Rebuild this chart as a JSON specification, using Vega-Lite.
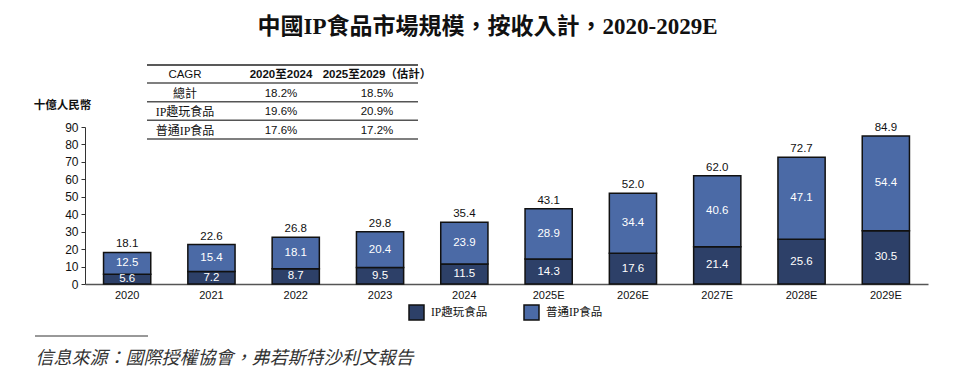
{
  "$schema": "https://vega.github.io/schema/vega-lite/v6.json",
  "width": 843,
  "height": 157,
  "autosize": {"type": "none"},
  "padding": {"left": 85, "top": 127, "right": 32, "bottom": 98},
  "background": "white",
  "title": {
    "text": "中國IP食品市場規模，按收入計，2020-2029E",
    "font": "Liberation Serif, Noto Sans CJK TC",
    "fontSize": 23,
    "fontWeight": "bold",
    "color": "#111",
    "anchor": "middle",
    "frame": "group",
    "baseline": "bottom",
    "dx": -19,
    "offset": 2
  },
  "config": {
    "view": {"stroke": null},
    "axis": {"labelFont": "Liberation Sans", "labelColor": "#111"},
    "axisY": {
      "values": [0, 10, 20, 30, 40, 50, 60, 70, 80, 90],
      "tickCount": 10,
      "labelOverlap": false
    }
  },
  "layer": [
    {
      "layer": [
        {
          "data": {
            "values": [
              {"year": "2020", "segment": "IP趣玩食品", "value": 5.6},
              {"year": "2020", "segment": "普通IP食品", "value": 12.5},
              {"year": "2021", "segment": "IP趣玩食品", "value": 7.2},
              {"year": "2021", "segment": "普通IP食品", "value": 15.4},
              {"year": "2022", "segment": "IP趣玩食品", "value": 8.7},
              {"year": "2022", "segment": "普通IP食品", "value": 18.1},
              {"year": "2023", "segment": "IP趣玩食品", "value": 9.5},
              {"year": "2023", "segment": "普通IP食品", "value": 20.4},
              {"year": "2024", "segment": "IP趣玩食品", "value": 11.5},
              {"year": "2024", "segment": "普通IP食品", "value": 23.9},
              {"year": "2025E", "segment": "IP趣玩食品", "value": 14.3},
              {"year": "2025E", "segment": "普通IP食品", "value": 28.9},
              {"year": "2026E", "segment": "IP趣玩食品", "value": 17.6},
              {"year": "2026E", "segment": "普通IP食品", "value": 34.4},
              {"year": "2027E", "segment": "IP趣玩食品", "value": 21.4},
              {"year": "2027E", "segment": "普通IP食品", "value": 40.6},
              {"year": "2028E", "segment": "IP趣玩食品", "value": 25.6},
              {"year": "2028E", "segment": "普通IP食品", "value": 47.1},
              {"year": "2029E", "segment": "IP趣玩食品", "value": 30.5},
              {"year": "2029E", "segment": "普通IP食品", "value": 54.4}
            ]
          },
          "transform": [
            {"stack": "value", "groupby": ["year"], "sort": [{"field": "segment", "order": "ascending"}], "as": ["v0", "v1"]},
            {"calculate": "(datum.v0 + datum.v1) / 2", "as": "mid"}
          ],
          "layer": [
            {
              "mark": {"type": "bar", "stroke": "#111", "strokeWidth": 1.5},
              "encoding": {
                "x": {
                  "field": "year", "type": "nominal", "sort": null,
                  "scale": {"paddingInner": 0.44, "paddingOuter": 0.22},
                  "axis": {
                    "title": "信息來源：國際授權協會，弗若斯特沙利文報告",
                    "titleFont": "Noto Sans CJK TC",
                    "titleFontStyle": "italic",
                    "titleFontWeight": "normal",
                    "titleFontSize": 18,
                    "titleColor": "#333",
                    "titleAnchor": "start",
                    "titleAlign": "left",
                    "titleBaseline": "middle",
                    "titleX": -50,
                    "titleY": 74,
                    "labelAngle": 0,
                    "labelFontSize": 11,
                    "labelPadding": 5,
                    "ticks": false,
                    "domainColor": "#555",
                    "domainWidth": 1.5
                  }
                },
                "y": {
                  "field": "v0", "type": "quantitative",
                  "scale": {"domain": [0, 90], "nice": false},
                  "axis": {
                    "values": [0, 10, 20, 30, 40, 50, 60, 70, 80, 90],
                    "labelOverlap": false,
                    "grid": false,
                    "tickSize": 4,
                    "tickColor": "#333",
                    "domainColor": "#333",
                    "labelFontSize": 12,
                    "labelPadding": 3,
                    "title": "十億人民幣",
                    "titleFont": "Noto Sans CJK TC",
                    "titleFontWeight": "bold",
                    "titleFontSize": 11.5,
                    "titleColor": "#111",
                    "titleAngle": 0,
                    "titleAlign": "center",
                    "titleBaseline": "middle",
                    "titleX": -23,
                    "titleY": -22
                  }
                },
                "y2": {"field": "v1"},
                "color": {
                  "field": "segment", "type": "nominal",
                  "scale": {"domain": ["IP趣玩食品", "普通IP食品"], "range": ["#2d4068", "#4b6aa6"]},
                  "legend": {
                    "title": null,
                    "orient": "none",
                    "direction": "horizontal",
                    "legendX": 323,
                    "legendY": 177,
                    "symbolType": "square",
                    "symbolSize": 225,
                    "symbolStrokeColor": "#111",
                    "symbolStrokeWidth": 1.5,
                    "symbolOpacity": 1,
                    "labelFont": "Liberation Serif, Noto Sans CJK TC",
                    "labelFontSize": 11.5,
                    "labelColor": "#111",
                    "labelOffset": 6,
                    "columnPadding": 33
                  }
                }
              }
            },
            {
              "mark": {"type": "text", "color": "white", "font": "Liberation Sans", "fontSize": 11.5},
              "encoding": {
                "x": {"field": "year", "type": "nominal", "sort": null},
                "y": {"field": "mid", "type": "quantitative"},
                "text": {"field": "value", "type": "quantitative", "format": ".1f"}
              }
            }
          ]
        },
        {
          "data": {
            "values": [
              {"year": "2020", "total": 18.1},
              {"year": "2021", "total": 22.6},
              {"year": "2022", "total": 26.8},
              {"year": "2023", "total": 29.8},
              {"year": "2024", "total": 35.4},
              {"year": "2025E", "total": 43.1},
              {"year": "2026E", "total": 52.0},
              {"year": "2027E", "total": 62.0},
              {"year": "2028E", "total": 72.7},
              {"year": "2029E", "total": 84.9}
            ]
          },
          "mark": {"type": "text", "color": "#111", "font": "Liberation Sans", "fontSize": 11.5, "baseline": "bottom", "dy": -3},
          "encoding": {
            "x": {"field": "year", "type": "nominal", "sort": null},
            "y": {"field": "total", "type": "quantitative"},
            "text": {"field": "total", "type": "quantitative", "format": ".1f"}
          }
        }
      ]
    },
    {
      "data": {
        "values": [
          {"row": "CAGR", "col": "CAGR", "text": "CAGR"},
          {"row": "CAGR", "col": "2020至2024", "text": "2020至2024"},
          {"row": "CAGR", "col": "2025至2029（估計）", "text": "2025至2029（估計）"},
          {"row": "總計", "col": "CAGR", "text": "總計"},
          {"row": "總計", "col": "2020至2024", "text": "18.2%"},
          {"row": "總計", "col": "2025至2029（估計）", "text": "18.5%"},
          {"row": "IP趣玩食品", "col": "CAGR", "text": "IP趣玩食品"},
          {"row": "IP趣玩食品", "col": "2020至2024", "text": "19.6%"},
          {"row": "IP趣玩食品", "col": "2025至2029（估計）", "text": "20.9%"},
          {"row": "普通IP食品", "col": "CAGR", "text": "普通IP食品"},
          {"row": "普通IP食品", "col": "2020至2024", "text": "17.6%"},
          {"row": "普通IP食品", "col": "2025至2029（估計）", "text": "17.2%"}
        ]
      },
      "encoding": {
        "y": {
          "field": "row", "type": "nominal",
          "scale": {"type": "point", "domain": ["CAGR", "總計", "IP趣玩食品", "普通IP食品"], "range": [-52, 4], "padding": 0},
          "axis": null
        }
      },
      "layer": [
        {
          "transform": [{"filter": "datum.row !== 'CAGR' && datum.col === 'CAGR'"}],
          "mark": {"type": "text", "font": "Liberation Serif, Noto Sans CJK TC", "fontSize": 12, "color": "#111"},
          "encoding": {
            "x": {
              "field": "col", "type": "nominal",
              "scale": {"type": "point", "domain": ["CAGR", "2020至2024", "2025至2029（估計）"], "range": [100, 292], "padding": 0},
              "axis": null
            },
            "text": {"field": "text"}
          }
        },
        {
          "transform": [{"filter": "datum.row !== 'CAGR' && datum.col !== 'CAGR'"}],
          "mark": {"type": "text", "font": "Liberation Sans, Noto Sans CJK TC", "fontSize": 11.5, "color": "#111"},
          "encoding": {
            "x": {"field": "col", "type": "nominal"},
            "text": {"field": "text"}
          }
        },
        {
          "transform": [{"filter": "datum.row === 'CAGR' && datum.col === 'CAGR'"}],
          "mark": {"type": "text", "font": "Liberation Sans, Noto Sans CJK TC", "fontSize": 11.5, "color": "#111"},
          "encoding": {
            "x": {"field": "col", "type": "nominal"},
            "text": {"field": "text"}
          }
        },
        {
          "transform": [{"filter": "datum.row === 'CAGR' && datum.col !== 'CAGR'"}],
          "mark": {"type": "text", "font": "Liberation Sans, Noto Sans CJK TC", "fontSize": 11.5, "fontWeight": "bold", "color": "#111"},
          "encoding": {
            "x": {"field": "col", "type": "nominal"},
            "text": {"field": "text"}
          }
        },
        {
          "transform": [{"filter": "datum.col === 'CAGR'"}],
          "mark": {"type": "rule", "color": "#555", "strokeWidth": 1.5, "yOffset": 8, "xOffset": -38, "x2Offset": 41},
          "encoding": {
            "x": {"datum": "CAGR"},
            "x2": {"datum": "2025至2029（估計）"}
          }
        },
        {
          "transform": [{"filter": "datum.row === 'CAGR' && datum.col === 'CAGR'"}],
          "mark": {"type": "rule", "color": "#222", "strokeWidth": 1.5, "yOffset": -10, "xOffset": -38, "x2Offset": 41},
          "encoding": {
            "x": {"datum": "CAGR"},
            "x2": {"datum": "2025至2029（估計）"}
          }
        }
      ]
    },
    {
      "data": {"values": [{"note": "source-separator"}]},
      "mark": {"type": "rule", "color": "#333", "strokeWidth": 1},
      "encoding": {
        "x": {"datum": 0, "type": "quantitative", "scale": {"domain": [0, 1], "range": [-50, 63]}, "axis": null},
        "x2": {"datum": 1},
        "y": {"datum": 0, "type": "quantitative", "scale": {"domain": [0, 1], "range": [209, 300]}, "axis": null}
      }
    }
  ],
  "resolve": {"scale": {"x": "independent", "y": "independent", "color": "independent"}, "axis": {"x": "independent", "y": "independent"}}
}
